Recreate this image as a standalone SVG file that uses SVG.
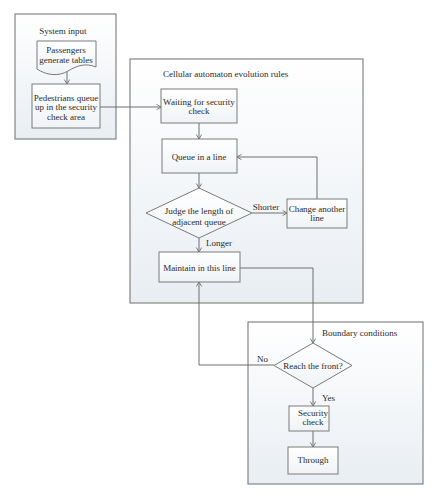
<svg xmlns="http://www.w3.org/2000/svg" width="439" height="500" viewBox="0 0 439 500">
<defs>
<linearGradient id="g" x1="0" y1="0" x2="0" y2="1">
<stop offset="0" stop-color="#ffffff"/>
<stop offset="1" stop-color="#e9eef3"/>
</linearGradient>
<linearGradient id="gn" x1="0" y1="0" x2="0" y2="1">
<stop offset="0" stop-color="#ffffff"/>
<stop offset="1" stop-color="#f0f3f6"/>
</linearGradient>
<marker id="arr" markerWidth="6" markerHeight="7" refX="5" refY="3" orient="auto" markerUnits="userSpaceOnUse">
<path d="M0.5,0.3 L5,3 L0.5,5.7" fill="none" stroke="#6f6f6f" stroke-width="0.9"/>
</marker>
<style>
.cont{fill:url(#g);stroke:#7a7a7a;stroke-width:1.1}
.node{fill:url(#gn);stroke:#7a7a7a;stroke-width:1}
.t{font-family:"Liberation Serif","Times New Roman",serif;font-size:9px;fill:#2b2b2b;text-anchor:middle}
.ts{font-family:"Liberation Serif","Times New Roman",serif;font-size:9px;fill:#2b2b2b}
.c{fill:none;stroke:#6f6f6f;stroke-width:1}
</style>
</defs>
<rect width="439" height="500" fill="#ffffff"/>

<g id="system-input">
<rect class="cont" x="15" y="14" width="101" height="125"/>
<text class="t" x="63" y="34">System input</text>
</g>
<g id="cellular-rules">
<rect class="cont" x="130" y="59" width="233" height="244"/>
<text class="ts" x="163" y="77">Cellular automaton evolution rules</text>
</g>
<g id="boundary-conditions">
<rect class="cont" x="248" y="322" width="175" height="162"/>
<text class="ts" x="322" y="336">Boundary conditions</text>
</g>

<g id="connectors">
<path class="c" d="M67,72 V84" marker-end="url(#arr)"/>
<path class="c" d="M100,107 H161" marker-end="url(#arr)"/>
<path class="c" d="M199,123 V139" marker-end="url(#arr)"/>
<path class="c" d="M199,173 V188" marker-end="url(#arr)"/>
<path class="c" d="M252,213 H287" marker-end="url(#arr)"/>
<path class="c" d="M317,199 V157 H237" marker-end="url(#arr)"/>
<path class="c" d="M199,238 V252" marker-end="url(#arr)"/>
<path class="c" d="M240,268 H313 V343" marker-end="url(#arr)"/>
<path class="c" d="M274,365 H199 V282" marker-end="url(#arr)"/>
<path class="c" d="M313,388 V406" marker-end="url(#arr)"/>
<path class="c" d="M313,431 V447" marker-end="url(#arr)"/>
<text class="t" x="266" y="210">Shorter</text>
<text class="ts" x="206" y="246">Longer</text>
<text class="ts" x="257" y="362">No</text>
<text class="ts" x="322" y="401">Yes</text>
</g>

<g id="passengers">
<path class="node" d="M37,41 H96 V67 C86,63 78,65 68,71 C58,77 46,75 37,69 Z"/>
<text class="t" x="66" y="53">Passengers</text>
<text class="t" x="66" y="63">generate tables</text>
</g>
<g id="pedestrians">
<rect class="node" x="32" y="84" width="68" height="44"/>
<text class="t" x="66" y="101">Pedestrians queue</text>
<text class="t" x="66" y="110">up in the security</text>
<text class="t" x="66" y="120">check area</text>
</g>
<g id="waiting">
<rect class="node" x="161" y="89" width="76" height="34"/>
<text class="t" x="199" y="105">Waiting for security</text>
<text class="t" x="199" y="114">check</text>
</g>
<g id="queue">
<rect class="node" x="162" y="139" width="75" height="34"/>
<text class="t" x="199" y="160">Queue in a line</text>
</g>
<g id="judge">
<path class="node" d="M199,188 L252,213 L199,238 L146,213 Z"/>
<text class="t" x="199" y="214">Judge the length of</text>
<text class="t" x="199" y="225">adjacent queue</text>
</g>
<g id="change">
<rect class="node" x="287" y="199" width="60" height="29"/>
<text class="t" x="317" y="212">Change another</text>
<text class="t" x="317" y="221">line</text>
</g>
<g id="maintain">
<rect class="node" x="159" y="252" width="81" height="30"/>
<text class="t" x="199.5" y="271">Maintain in this line</text>
</g>
<g id="reach">
<path class="node" d="M313,343 L352,365.5 L313,388 L274,365.5 Z"/>
<text class="t" x="313" y="369">Reach the front?</text>
</g>
<g id="security">
<rect class="node" x="289" y="406" width="40" height="25"/>
<text class="t" x="313" y="416">Security</text>
<text class="t" x="313" y="425">check</text>
</g>
<g id="through">
<rect class="node" x="288" y="447" width="50" height="27"/>
<text class="t" x="313" y="463">Through</text>
</g>
</svg>
